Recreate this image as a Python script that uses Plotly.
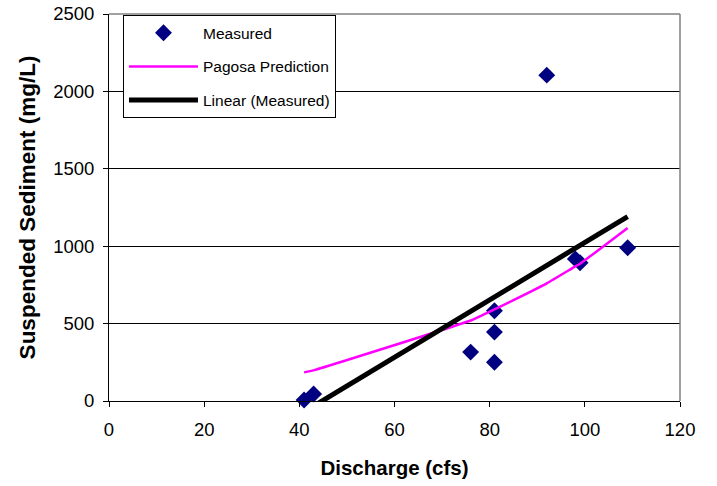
import numpy as np
import plotly.graph_objects as go

# Measured data
discharge = [41, 43, 76, 81, 81, 81, 92, 98, 99, 109]
sediment = [6, 45, 316, 250, 445, 583, 2105, 918, 893, 990]

# Pagosa prediction curve
pagosa_q = [41, 43, 76, 81, 92, 98, 99, 109]
pagosa_s = [185, 198, 520, 592, 760, 870, 887, 1118]

x_ticks = [0, 20, 40, 60, 80, 100, 120]
y_ticks = [0, 500, 1000, 1500, 2000, 2500]

# Linear trendline of measured data (as Excel's trendline)
slope, intercept = np.polyfit(discharge, sediment, 1)
trend_x = [min(discharge), max(discharge)]
trend_y = [slope * v + intercept for v in trend_x]

FONT = "Arial, Liberation Sans, sans-serif"

fig = go.Figure()
fig.add_trace(go.Scatter(
    x=discharge, y=sediment, mode="markers", name="Measured",
    legendgroup="a",
    marker=dict(symbol="diamond", size=13, color="#000080"),
    cliponaxis=False,
))
fig.add_trace(go.Scatter(
    x=pagosa_q, y=pagosa_s, mode="lines", name="Pagosa Prediction",
    legendgroup="b",
    line=dict(color="#FF00FF", width=2.5, shape="spline", smoothing=0.4),
))
fig.add_trace(go.Scatter(
    x=trend_x, y=trend_y, mode="lines", name="Linear (Measured)",
    legendgroup="c",
    line=dict(color="#000000", width=5),
))

fig.update_layout(
    width=717, height=486,
    margin=dict(l=109, r=37, t=14, b=85),
    paper_bgcolor="white", plot_bgcolor="white",
    font=dict(family=FONT, color="black", size=18.5),
    showlegend=True,
    legend=dict(
        x=0.0245, y=0.997, xanchor="left", yanchor="top",
        bgcolor="white", bordercolor="black", borderwidth=1,
        font=dict(size=15.5, family=FONT),
        tracegroupgap=10.5, itemwidth=69,
    ),
    xaxis=dict(
        range=[0, 120], tickvals=x_ticks, ticktext=[str(v) for v in x_ticks],
        showgrid=False, zeroline=False, automargin=False,
        showline=True, linecolor="black", linewidth=1,
        ticks="outside", ticklen=5, tickcolor="black",
        ticklabelstandoff=7,
        title=dict(text="<b>Discharge (cfs)</b>", font=dict(size=20.5), standoff=21),
    ),
    yaxis=dict(
        range=[0, 2500], tickvals=y_ticks, ticktext=[str(v) for v in y_ticks],
        showgrid=True, gridcolor="black", gridwidth=1, zeroline=False, automargin=False,
        showline=True, linecolor="black", linewidth=1,
        ticks="outside", ticklen=5, tickcolor="black",
        ticklabelstandoff=5,
        title=dict(text="<b>Suspended Sediment (mg/L)</b>", font=dict(size=22.5), standoff=11),
    ),
    shapes=[
        dict(type="line", xref="paper", yref="paper", x0=0, x1=1, y0=1, y1=1,
             line=dict(color="#808080", width=1.5), layer="above"),
        dict(type="line", xref="paper", yref="paper", x0=1, x1=1, y0=0, y1=1,
             line=dict(color="#808080", width=1.5), layer="above"),
    ],
)

fig.write_html("out.html", config={"displayModeBar": False},
               post_script="document.body.style.margin='0';")
